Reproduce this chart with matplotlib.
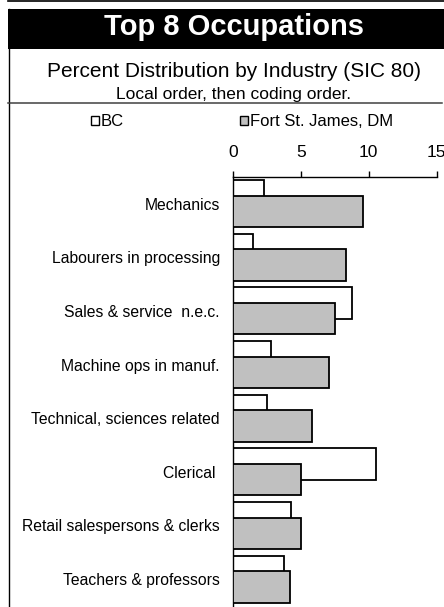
import numpy as np
import matplotlib
matplotlib.use("Agg")
import matplotlib.pyplot as plt
from matplotlib.patches import Rectangle, Patch
from matplotlib.lines import Line2D

plt.rcParams['font.family'] = ['Liberation Sans', 'DejaVu Sans']

# ---- data ----
categories = ["Mechanics", "Labourers in processing", "Sales & service  n.e.c.",
              "Machine ops in manuf.", "Technical, sciences related", "Clerical ",
              "Retail salespersons & clerks", "Teachers & professors"]
bc_values = [2.28, 1.49, 8.78, 2.82, 2.50, 10.53, 4.25, 3.76]
fsj_values = [9.60, 8.34, 7.53, 7.09, 5.84, 5.03, 5.03, 4.18]
series_names = ["BC", "Fort St. James, DM"]
x_ticks = [0, 5, 10, 15]
title = "Top 8 Occupations"
subtitle = "Percent Distribution by Industry (SIC 80)"
subtitle2 = "Local order, then coding order."

W, H = 444, 607
fig = plt.figure(figsize=(W / 100, H / 100), dpi=100)


def fx(px):
    return px / W


def fy(py):
    return 1 - py / H


# ---- frame decorations ----
fig.add_artist(Line2D([fx(8), fx(444)], [fy(0.7), fy(0.7)], color='black', lw=1.2,
                      transform=fig.transFigure))
fig.add_artist(Rectangle((fx(8), fy(49)), fx(444) - fx(8), (49 - 9) / H,
                         facecolor='black', edgecolor='none', transform=fig.transFigure))
fig.add_artist(Line2D([fx(8.6), fx(8.6)], [fy(9), fy(607)], color='black', lw=1.0,
                      transform=fig.transFigure))
fig.add_artist(Line2D([fx(8), fx(441.7)], [fy(103.3), fy(103.3)], color='#404040', lw=1.1,
                      transform=fig.transFigure))

fig.text(fx(234), fy(35), title, ha='center', va='baseline', color='white',
         fontsize=21, fontweight='bold')
fig.text(fx(233.5), fy(76.7), subtitle, ha='center', va='baseline', fontsize=15)
fig.text(fx(233.5), fy(99), subtitle2, ha='center', va='baseline', fontsize=12.5)

# ---- axes ----
ax = fig.add_axes([fx(233), 0, fx(436.7) - fx(233), fy(177.3)])
y = np.arange(len(categories))
h = 0.584
off = 0.146
ax.barh(y - off, bc_values, height=h, color='white', edgecolor='black', lw=1.3, zorder=2)
ax.barh(y + off, fsj_values, height=h, color='#c0c0c0', edgecolor='black', lw=1.3, zorder=3)

ax.set_xlim(0, 15)
ax.set_ylim(7.52, -0.49)
ax.xaxis.tick_top()
ax.set_xticks(x_ticks)
ax.set_xticklabels([str(t) for t in x_ticks])
ax.tick_params(axis='x', length=4, width=1, pad=8.3, labelsize=12.5)
ax.set_yticks(y)
ax.set_yticklabels(categories)
ax.tick_params(axis='y', length=0, pad=9.4, labelsize=11.3)
for s in ['right', 'bottom']:
    ax.spines[s].set_visible(False)
for s in ['top', 'left']:
    ax.spines[s].set_linewidth(1.0)
ax.set_facecolor('none')

# ---- legends ----
h1 = Patch(facecolor='white', edgecolor='black', lw=1.0)
h2 = Patch(facecolor='#c0c0c0', edgecolor='black', lw=1.0)
common = dict(loc='center left', frameon=False, borderpad=0, borderaxespad=0,
              handlelength=0.46, handleheight=0.5, handletextpad=0.12, fontsize=12)
leg1 = fig.legend([h1], [series_names[0]], bbox_to_anchor=(fx(91), fy(122)), **common)
leg2 = fig.legend([h2], [series_names[1]], bbox_to_anchor=(fx(240), fy(122)), **common)

fig.savefig("out.png", dpi=100)
